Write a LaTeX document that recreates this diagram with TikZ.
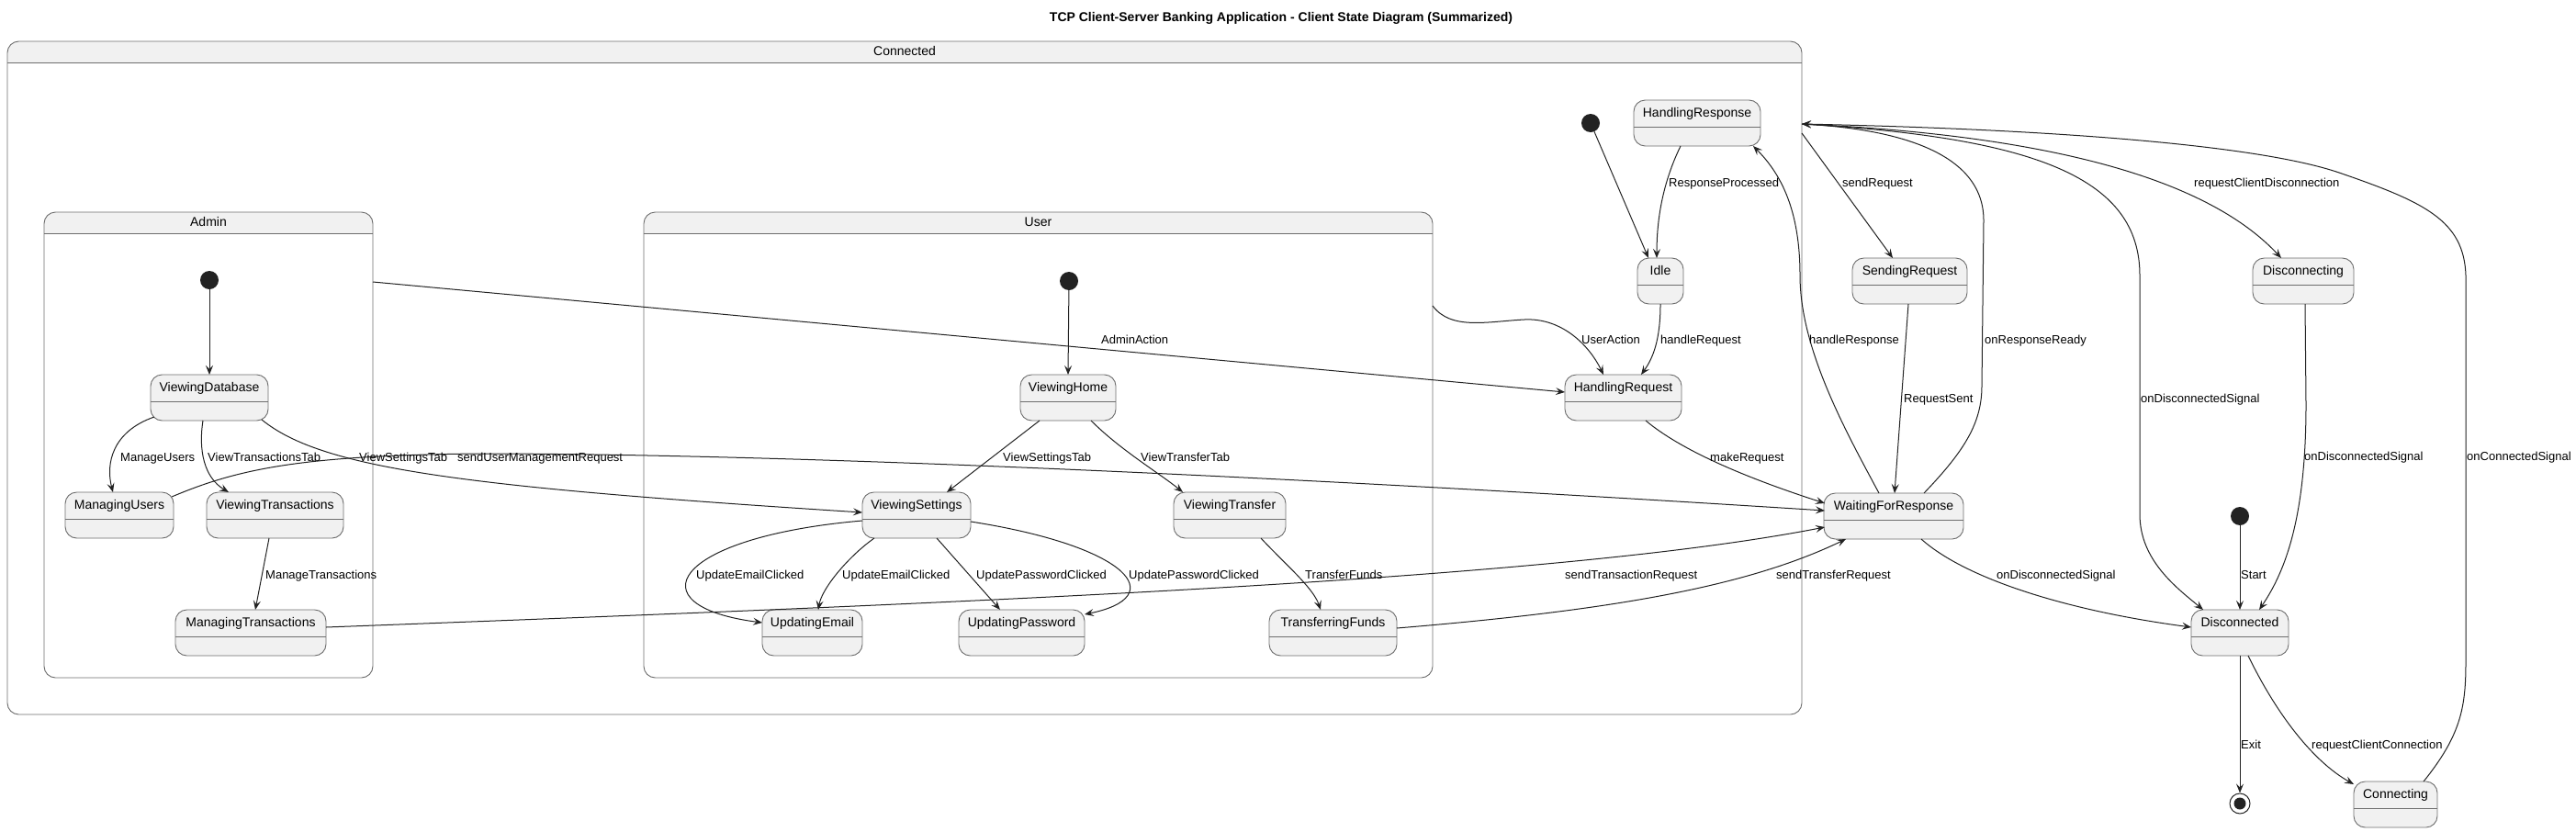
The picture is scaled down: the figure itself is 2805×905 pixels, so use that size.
\documentclass[tikz,border=0pt]{standalone}
\usepackage{fontspec}
\setmainfont{Liberation Sans}
\usetikzlibrary{arrows.meta,calc}
\definecolor{boxfill}{HTML}{F1F1F1}
\definecolor{boxline}{HTML}{6E6E6E}
\definecolor{edgecol}{HTML}{222222}
\definecolor{dotcol}{HTML}{222222}
\tikzset{
 st/.style={draw=boxline, fill=boxfill, line width=0.9pt, rounded corners=12.5pt, anchor=north west, minimum height=50pt, inner sep=0pt, outer sep=0pt},
 sttext/.style={font=\fontsize{14}{16}\selectfont, inner sep=0pt, text height=10pt, text depth=3pt},
 stsep/.style={draw=boxline, line width=0.9pt},
 comp/.style={draw=boxline, line width=0.9pt, rounded corners=12.5pt, anchor=north west, inner sep=0pt, outer sep=0pt},
 edge/.style={draw=edgecol, line width=1pt, -{Stealth[length=10pt,width=8pt,inset=4pt]}},
 lbl/.style={font=\fontsize{13}{15}\selectfont, inner sep=0pt, anchor=west, text height=9.5pt, text depth=2.7pt},
 initdot/.style={circle, fill=dotcol, minimum size=20pt, inner sep=0pt},
}
\newcommand\stnode[5]{%
  \pgfmathsetmacro\stw{#4-#2}%
  \node[st, minimum width=\stw pt] (#1) at (#2,#3) {};
  \node[sttext] (#1-t) at ([yshift=-14.5pt]#1.north) {#5};
  \draw[stsep] ([yshift=-29pt]#1.north west) -- ([yshift=-29pt]#1.north east);
}
\newcommand\compbox[6]{%
  \pgfmathsetmacro\stw{#4-#2}%
  \pgfmathsetmacro\sth{#5-#3}%
  \begin{scope}
    \clip (#2,#3) rectangle (#4,#3+23);
    \fill[boxfill, rounded corners=12.5pt] (#2,#3) rectangle (#4,#5);
  \end{scope}
  \node[comp, minimum width=\stw pt, minimum height=\sth pt] (#1) at (#2,#3) {};
  \draw[stsep] ([yshift=-23pt]#1.north west) -- ([yshift=-23pt]#1.north east);
  \node[sttext] (#1-t) at ([yshift=-11.5pt]#1.north) {#6};
}
\begin{document}
\begin{tikzpicture}[x=1pt,y=-1pt]
\useasboundingbox[fill=white] (0,0) rectangle (2805,905);
\node[font=\bfseries\fontsize{14}{16}\selectfont, inner sep=0pt] (title) at (1395,20) {TCP Client-Server Banking Application - Client State Diagram (Summarized)};

% composites
\compbox{Connected}{8}{45}{1962}{778}{Connected}
\compbox{Admin}{48}{231}{406}{738}{Admin}
\compbox{User}{701}{231}{1560}{738}{User}

% Admin states
\node[initdot] (aInit) at (228,305) {};
\stnode{VD}{164}{408}{292}{ViewingDatabase}
\stnode{MU}{71}{536}{189}{ManagingUsers}
\stnode{VT}{225}{536}{374}{ViewingTransactions}
\stnode{MT}{191}{664}{355}{ManagingTransactions}

% User states
\node[initdot] (uInit) at (1164,306) {};
\stnode{VH}{1111}{408}{1215}{ViewingHome}
\stnode{VS}{939}{536}{1057}{ViewingSettings}
\stnode{VTr}{1278}{536}{1400}{ViewingTransfer}
\stnode{UE}{830}{664}{939}{UpdatingEmail}
\stnode{UP}{1044}{664}{1181}{UpdatingPassword}
\stnode{TF}{1382}{664}{1521}{TransferringFunds}

% Connected states
\node[initdot] (cInit) at (1732,134) {};
\stnode{HR}{1779}{109}{1917}{HandlingResponse}
\stnode{Idle}{1783}{281}{1833}{Idle}
\stnode{HReq}{1704}{408}{1831}{HandlingRequest}

% outer states
\stnode{SR}{2017}{281}{2142}{SendingRequest}
\stnode{WFR}{1986}{537}{2138}{WaitingForResponse}
\stnode{Dcg}{2453}{281}{2563}{Disconnecting}
\stnode{Dis}{2386}{664}{2492}{Disconnected}
\stnode{Con}{2563}{851}{2654}{Connecting}
\node[initdot] (dInit) at (2439,562) {};
\node[circle, draw=edgecol, line width=1pt, minimum size=22pt, inner sep=0pt] (fin) at (2439,875) {};
\node[circle, fill=dotcol, minimum size=13pt, inner sep=0pt] (fin-in) at (fin) {};

% Admin edges
\draw[edge] (aInit) -- (VD.north);
\draw[edge] ($(VD.north west)+(4,46)$) .. controls (122,470) and (115,505) .. ($(MU.north west)+(52,0)$);
\draw[edge] ($(VD.north west)+(57,50)$) .. controls (216,490) and (222,520) .. ($(VT.north west)+(24,0)$);
\draw[edge] ($(VD.north west)+(121,49)$) .. controls (350,510) and (500,530) .. ($(VS.north west)+(0,22)$);
\draw[edge] ($(MU.north west)+(116,5)$) .. controls (260,510) and (330,496) .. (520,494) .. controls (900,494) and (1500,525) .. ($(WFR.north west)+(1,19)$);
\draw[edge] ($(VT.north west)+(68,50)$) -- ($(MT.north west)+(87,0)$);
\draw[edge] ($(MT.north west)+(164,19)$) .. controls (1100,655) and (1700,630) .. ($(WFR.north west)+(1,37)$);

% User edges
\draw[edge] (uInit) -- (VH.north);
\draw[edge] ($(VH.north west)+(21,50)$) -- ($(VS.north west)+(92,0)$);
\draw[edge] ($(VH.north west)+(77,50)$) .. controls (1220,490) and (1262,515) .. ($(VTr.north west)+(10,0)$);
\draw[edge] ($(VS.north west)+(0,31)$) .. controls (730,585) and (690,660) .. ($(UE.north west)+(0,14)$);
\draw[edge] ($(VS.north west)+(13,50)$) .. controls (925,605) and (895,640) .. ($(UE.north west)+(61,0)$);
\draw[edge] ($(VS.north west)+(81,50)$) -- ($(UP.north west)+(45,0)$);
\draw[edge] ($(VS.north west)+(118,32)$) .. controls (1230,595) and (1275,650) .. ($(UP.north west)+(137,5)$);
\draw[edge] ($(VTr.north west)+(95,50)$) .. controls (1400,615) and (1430,640) .. ($(TF.north west)+(56,0)$);
\draw[edge] ($(TF.north west)+(139,20)$) .. controls (1750,665) and (1900,640) .. ($(WFR.north west)+(24,50)$);

% to HandlingRequest
\draw[edge] ($(Admin.north west)+(358,76)$) -- ($(HReq.north west)+(0,19)$);
\draw[edge] ($(User.north west)+(859,102)$) .. controls (1580,360) and (1620,350) .. (1660,348) .. controls (1700,346) and (1730,375) .. ($(HReq.north west)+(42,0)$);

% Connected inner
\draw[edge] (cInit) -- ($(Idle.north west)+(12,0)$);
\draw[edge] ($(HR.north west)+(51,50)$) .. controls (1810,200) and (1804,240) .. ($(Idle.north west)+(21,0)$);
\draw[edge] ($(Idle.north west)+(25,50)$) .. controls (1808,370) and (1800,390) .. ($(HReq.north west)+(83,0)$);
\draw[edge] ($(HReq.north west)+(88,50)$) .. controls (1830,490) and (1900,520) .. ($(WFR.north west)+(1,11)$);
\draw[edge] ($(WFR.north west)+(60,0)$) .. controls (2010,470) and (1960,380) .. (1960,300) .. controls (1960,230) and (1940,190) .. ($(HR.north west)+(130,50)$);
\draw[edge] ($(SR.north west)+(61,50)$) -- ($(WFR.north west)+(77,0)$);
\draw[edge] ($(Connected.north west)+(1954,100)$) -- ($(SR.north west)+(44,0)$);
\draw[edge] ($(WFR.north west)+(109,0)$) .. controls (2140,490) and (2158,460) .. (2158,420) -- (2160,240) .. controls (2160,160) and (2050,140) .. ($(Connected.north west)+(1954,90)$);
\draw[edge] ($(Connected.north west)+(1954,90)$) .. controls (2180,145) and (2390,180) .. ($(Dcg.north west)+(31,0)$);
\draw[edge] ($(Connected.north west)+(1954,90)$) .. controls (2220,150) and (2330,195) .. (2330,300) -- (2330,560) .. controls (2330,610) and (2370,640) .. ($(Dis.north west)+(13,0)$);
\draw[edge] ($(WFR.north west)+(106,50)$) .. controls (2140,630) and (2250,665) .. ($(Dis.north west)+(0,19)$);
\draw[edge] ($(Dcg.north west)+(57,50)$) -- (2511,440) .. controls (2511,560) and (2490,620) .. ($(Dis.north west)+(74,0)$);
\draw[edge] (dInit) -- (Dis.north);
\draw[edge] (Dis.south) -- (fin);
\draw[edge] ($(Dis.north west)+(62,50)$) .. controls (2480,780) and (2520,830) .. ($(Con.north west)+(0,3)$);
\draw[edge] ($(Con.north west)+(76,0)$) .. controls (2680,800) and (2685,770) .. (2685,720) -- (2685,300) .. controls (2683,240) and (2640,220) .. (2547,188) .. controls (2450,155) and (2200,140) .. ($(Connected.north west)+(1954,90)$);

% labels
\node[lbl] (l1) at (131,499) {ManageUsers};
\node[lbl] (l2) at (226,499) {ViewTransactionsTab};
\node[lbl] (l3) at (391,499) {ViewSettingsTab};
\node[lbl] (l4) at (498,499) {sendUserManagementRequest};
\node[lbl] (l5) at (289,627) {ManageTransactions};
\node[lbl] (l6) at (1199,371) {AdminAction};
\node[lbl] (l7) at (1092,499) {ViewSettingsTab};
\node[lbl] (l8) at (1242,499) {ViewTransferTab};
\node[lbl] (l9) at (758,627) {UpdateEmailClicked};
\node[lbl] (l10) at (917,627) {UpdateEmailClicked};
\node[lbl] (l11) at (1063,627) {UpdatePasswordClicked};
\node[lbl] (l12) at (1229,627) {UpdatePasswordClicked};
\node[lbl] (l13) at (1421,627) {TransferFunds};
\node[lbl] (l14) at (1704,627) {sendTransactionRequest};
\node[lbl] (l15) at (1934,627) {sendTransferRequest};
\node[lbl] (l16) at (1817,200) {ResponseProcessed};
\node[lbl] (l17) at (2006,200) {sendRequest};
\node[lbl] (l18) at (1722,371) {UserAction};
\node[lbl] (l19) at (1808,371) {handleRequest};
\node[lbl] (l20) at (1970,371) {handleResponse};
\node[lbl] (l21) at (2161,371) {onResponseReady};
\node[lbl] (l22) at (2073,435) {RequestSent};
\node[lbl] (l23) at (1862,499) {makeRequest};
\node[lbl] (l24) at (2389,200) {requestClientDisconnection};
\node[lbl] (l25) at (2331,435) {onDisconnectedSignal};
\node[lbl] (l26) at (2509,498) {onDisconnectedSignal};
\node[lbl] (l27) at (2686,498) {onConnectedSignal};
\node[lbl] (l28) at (2440,627) {Start};
\node[lbl] (l29) at (2440,812) {Exit};
\node[lbl] (l30) at (2517,812) {requestClientConnection};
\node[lbl] (l31) at (2174,627) {onDisconnectedSignal};
\end{tikzpicture}
\end{document}
